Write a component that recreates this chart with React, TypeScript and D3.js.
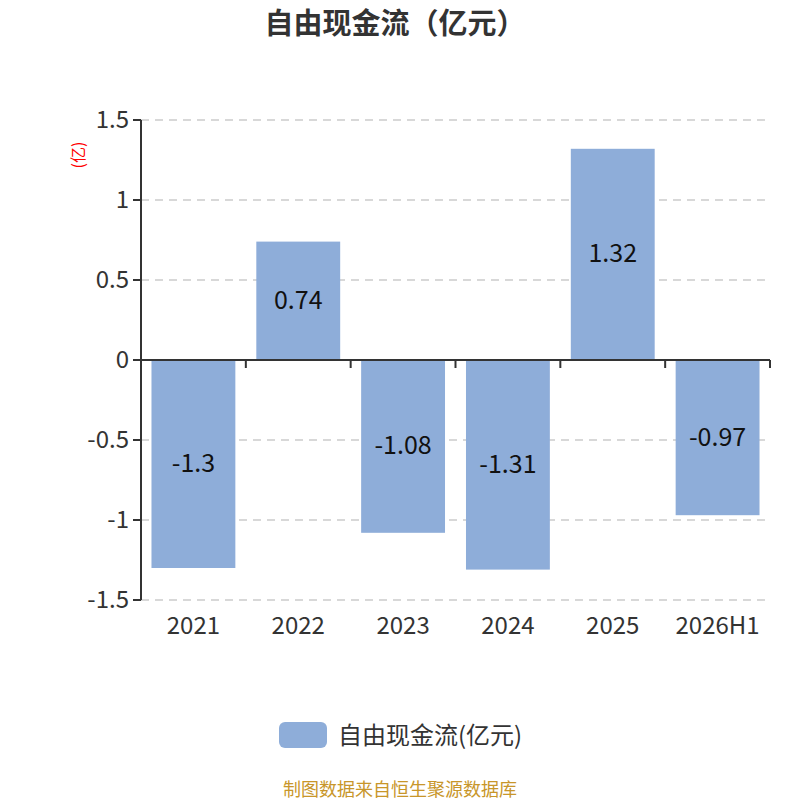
import React from 'react';
import * as d3 from 'd3';

const categories = ['2021', '2022', '2023', '2024', '2025', '2026H1'];
const values = [-1.3, 0.74, -1.08, -1.31, 1.32, -0.97];
const yTicks = [1.5, 1, 0.5, 0, -0.5, -1, -1.5];

const W = 800;
const H = 800;
const left = 141;
const right = 770;
const top = 120;
const bottom = 600;
const barColor = '#8eadd9';
const font = '"Noto Sans CJK SC", "Noto Sans", sans-serif';

const App: React.FC = () => {
  const x = d3.scaleBand<string>().domain(categories).range([left, right]).paddingInner(0.2).paddingOuter(0.1);
  const band = d3.scaleBand<string>().domain(categories).range([left, right]);
  const y = d3.scaleLinear().domain([-1.5, 1.5]).range([bottom, top]);
  const y0 = y(0);

  return (
    <svg width={W} height={H} style={{ display: 'block', position: 'absolute', left: 0, top: 0 }}>
      <rect width={W} height={H} fill="#fff" />
      <text x={395} y={34} textAnchor="middle" fontSize={29} fontWeight="bold" fill="#333" fontFamily={font}>
        自由现金流（亿元）
      </text>

      {/* grid */}
      {yTicks.filter((t) => t !== 0).map((t) => (
        <line key={t} x1={left} x2={right} y1={y(t)} y2={y(t)} stroke="#ccc" strokeDasharray="8 6" strokeWidth={1.5} />
      ))}

      {/* bars */}
      {categories.map((c, i) => {
        const v = values[i];
        const y1 = y(Math.max(v, 0));
        const y2 = y(Math.min(v, 0));
        return (
          <g key={c}>
            <rect x={x(c)} y={y1} width={x.bandwidth()} height={y2 - y1} fill={barColor} />
            <text x={x(c)! + x.bandwidth() / 2} y={(y1 + y2) / 2 + 8} textAnchor="middle" fontSize={25} fill="#111" fontFamily={font}>
              {String(v)}
            </text>
          </g>
        );
      })}

      {/* y axis */}
      <line x1={left} x2={left} y1={top} y2={bottom} stroke="#333" strokeWidth={2} />
      {yTicks.map((t) => (
        <g key={t}>
          <line x1={left - 8} x2={left} y1={y(t)} y2={y(t)} stroke="#333" strokeWidth={2} />
          <text x={left - 12} y={y(t) + 8} textAnchor="end" fontSize={24} fill="#333" fontFamily={font}>
            {String(t)}
          </text>
        </g>
      ))}
      <text transform={`translate(84,155) rotate(-90)`} textAnchor="middle" fontSize={16} fill="#ff0000" fontFamily={font}>
        (亿)
      </text>

      {/* x axis */}
      <line x1={left} x2={right} y1={y0} y2={y0} stroke="#333" strokeWidth={2} />
      {[...categories.map((c) => band(c)!), right].map((px, i) => (
        <line key={i} x1={px} x2={px} y1={y0} y2={y0 + 8} stroke="#333" strokeWidth={2} />
      ))}
      {categories.map((c) => (
        <text key={c} x={band(c)! + band.bandwidth() / 2} y={634} textAnchor="middle" fontSize={24} fill="#333" fontFamily={font}>
          {c}
        </text>
      ))}

      {/* legend */}
      <rect x={279} y={722} width={48} height={26} rx={6} fill={barColor} />
      <text x={338} y={744} fontSize={24} fill="#333" fontFamily={font}>
        自由现金流(亿元)
      </text>

      <text x={400} y={796} textAnchor="middle" fontSize={18} fill="#c8962a" fontFamily={font}>
        制图数据来自恒生聚源数据库
      </text>
    </svg>
  );
};

export default App;
